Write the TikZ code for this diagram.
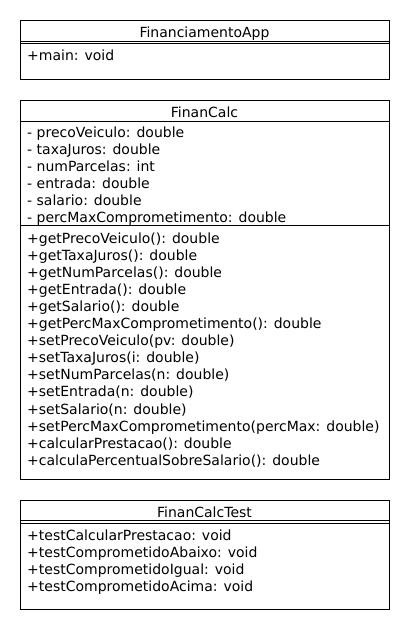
\documentclass[tikz,border=0pt]{standalone}
\usepackage{fontspec}
\setmainfont{DejaVu Sans}
\usetikzlibrary{positioning}
\tikzset{
  classline/.style={line width=0.8pt},
  classtitle/.style={font=\fontsize{14}{17}\selectfont, inner sep=0pt, anchor=base},
  member/.style={font=\fontsize{14}{17}\selectfont, inner sep=0pt, anchor=base west}
}
\begin{document}
\begin{tikzpicture}[x=1pt,y=-1pt]
\useasboundingbox (0,0) rectangle (410,630);

% FinanciamentoApp
\draw[classline] (20,20) rectangle (389,79);
\draw[classline] (20,41.2) -- (389,41.2);
\draw[classline] (20,43.4) -- (389,43.4);
\node[classtitle] (appTitle) at (204.5,37) {FinanciamentoApp};
\node[member] (appOp1) at (27,60.5) {+main: void};

% FinanCalc
\draw[classline] (20,100) rectangle (389,479);
\draw[classline] (20,121.5) -- (389,121.5);
\draw[classline] (20,225) -- (389,225);
\node[classtitle] (calcTitle) at (204.5,117.5) {FinanCalc};
\foreach \txt [count=\i] in {
  - precoVeiculo: double,
  - taxaJuros: double,
  - numParcelas: int,
  - entrada: double,
  - salario: double,
  - percMaxComprometimento: double}
  \node[member] (calcAttr\i) at (27,{137.5+17*(\i-1)}) {\txt};
\foreach \txt [count=\i] in {
  +getPrecoVeiculo(): double,
  +getTaxaJuros(): double,
  +getNumParcelas(): double,
  +getEntrada(): double,
  +getSalario(): double,
  +getPercMaxComprometimento(): double,
  +setPrecoVeiculo(pv: double),
  +setTaxaJuros(i: double),
  +setNumParcelas(n: double),
  +setEntrada(n: double),
  +setSalario(n: double),
  +setPercMaxComprometimento(percMax: double),
  +calcularPrestacao(): double,
  +calculaPercentualSobreSalario(): double}
  \node[member] (calcOp\i) at (27,{243.5+17.05*(\i-1)}) {\txt};

% FinanCalcTest
\draw[classline] (20,500.5) rectangle (389,609);
\draw[classline] (20,520.8) -- (389,520.8);
\draw[classline] (20,523) -- (389,523);
\node[classtitle] (testTitle) at (204.5,517.5) {FinanCalcTest};
\foreach \txt [count=\i] in {
  +testCalcularPrestacao: void,
  +testComprometidoAbaixo: void,
  +testComprometidoIgual: void,
  +testComprometidoAcima: void}
  \node[member] (testOp\i) at (27,{540+17.2*(\i-1)}) {\txt};
\end{tikzpicture}
\end{document}
